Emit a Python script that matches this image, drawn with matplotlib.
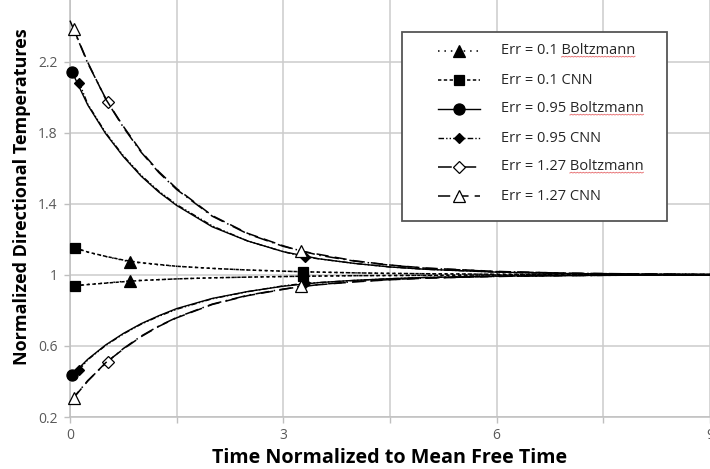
import matplotlib
matplotlib.use("Agg")
import numpy as np
import matplotlib.pyplot as plt
from matplotlib.lines import Line2D
from matplotlib.patches import Rectangle

plt.rcParams["font.family"] = ["Open Sans", "DejaVu Sans"]

# ---- data: normalized directional temperatures vs. time (upper / lower branch) ----
T_B01 = [0.07, 0.25, 0.5, 0.85, 1.25, 1.5, 2.0, 2.5, 3.0, 3.5, 4.0, 4.5, 5.0, 6.0, 7.0, 8.0, 9.0]
B01_HI = [1.150, 1.127, 1.103, 1.073, 1.056, 1.048, 1.036, 1.027, 1.020, 1.015, 1.011, 1.008, 1.006, 1.003, 1.002, 1.001, 1.000]
B01_LO = [0.940, 0.946, 0.954, 0.966, 0.973, 0.977, 0.983, 0.987, 0.990, 0.993, 0.995, 0.996, 0.997, 0.999, 0.999, 1.000, 1.000]
B01_MARK = [3]

T_C01 = [0.07, 0.25, 0.5, 0.75, 1.0, 1.5, 2.0, 2.5, 3.27, 4.0, 4.5, 5.0, 6.0, 7.0, 8.0, 9.0]
C01_HI = [1.152, 1.128, 1.104, 1.083, 1.068, 1.048, 1.036, 1.027, 1.017, 1.011, 1.008, 1.006, 1.003, 1.002, 1.001, 1.000]
C01_LO = [0.938, 0.945, 0.953, 0.961, 0.968, 0.977, 0.983, 0.987, 0.992, 0.995, 0.996, 0.997, 0.999, 0.999, 1.000, 1.000]
C01_MARK = [0, 8]

T_B095 = [0.03, 0.25, 0.5, 0.75, 1.0, 1.25, 1.5, 2.0, 2.5, 3.0, 3.5, 4.0, 4.5, 5.0, 6.0, 7.0, 8.0, 9.0]
B095_HI = [2.140, 1.955, 1.795, 1.665, 1.555, 1.465, 1.390, 1.270, 1.190, 1.130, 1.090, 1.064, 1.044, 1.031, 1.015, 1.007, 1.004, 1.002]
B095_LO = [0.437, 0.525, 0.605, 0.670, 0.725, 0.770, 0.810, 0.867, 0.906, 0.936, 0.956, 0.969, 0.978, 0.985, 0.993, 0.996, 0.998, 0.999]
B095_MARK = [0]

T_C095 = [0.13, 0.25, 0.5, 0.75, 1.0, 1.25, 1.5, 2.0, 2.5, 3.0, 3.3, 4.0, 4.5, 5.0, 6.0, 7.0, 8.0, 9.0]
C095_HI = [2.080, 1.960, 1.800, 1.670, 1.560, 1.470, 1.395, 1.275, 1.190, 1.130, 1.100, 1.064, 1.044, 1.031, 1.015, 1.007, 1.004, 1.002]
C095_LO = [0.466, 0.522, 0.602, 0.667, 0.722, 0.767, 0.806, 0.865, 0.905, 0.938, 0.952, 0.968, 0.978, 0.985, 0.993, 0.996, 0.998, 0.999]
C095_MARK = [0, 10]

T_B127 = [0.0, 0.25, 0.53, 0.75, 1.0, 1.25, 1.5, 2.0, 2.5, 3.0, 3.5, 4.0, 4.5, 5.0, 6.0, 7.0, 8.0, 9.0]
B127_HI = [2.430, 2.190, 1.970, 1.830, 1.690, 1.575, 1.480, 1.330, 1.230, 1.160, 1.110, 1.077, 1.054, 1.037, 1.018, 1.009, 1.004, 1.002]
B127_LO = [0.285, 0.405, 0.512, 0.585, 0.655, 0.712, 0.760, 0.835, 0.885, 0.920, 0.945, 0.962, 0.973, 0.982, 0.991, 0.996, 0.998, 0.999]
B127_MARK = [2]

T_C127 = [0.05, 0.25, 0.5, 0.75, 1.0, 1.25, 1.5, 2.0, 2.5, 3.0, 3.25, 4.0, 4.5, 5.0, 6.0, 7.0, 8.0, 9.0]
C127_HI = [2.384, 2.195, 1.990, 1.835, 1.695, 1.580, 1.485, 1.333, 1.233, 1.163, 1.133, 1.079, 1.055, 1.038, 1.019, 1.009, 1.005, 1.002]
C127_LO = [0.308, 0.402, 0.505, 0.582, 0.652, 0.710, 0.758, 0.833, 0.883, 0.918, 0.936, 0.960, 0.972, 0.981, 0.991, 0.996, 0.998, 0.999]
C127_MARK = [0, 10]

LABELS = ["Err = 0.1 Boltzmann", "Err = 0.1 CNN", "Err = 0.95 Boltzmann",
          "Err = 0.95 CNN", "Err = 1.27 Boltzmann", "Err = 1.27 CNN"]
X_TICKS = [0, 1.5, 3, 4.5, 6, 7.5, 9]
X_TICK_LABELS = ["0", "", "3", "", "6", "", "9"]
Y_TICKS = [0.2, 0.6, 1.0, 1.4, 1.8, 2.2]
X_TITLE = "Time Normalized to Mean Free Time"
Y_TITLE = "Normalized Directional Temperatures"

# ---- styles per series ----
STYLES = [
    dict(ls=(0, (1, 3.2)), marker="^", ms=8, mfc="black", lw=1.1),
    dict(ls=(0, (2.2, 1.6)), marker="s", ms=7.5, mfc="black", lw=1.1),
    dict(ls="-", marker="o", ms=8, mfc="black", lw=1.0),
    dict(ls=(0, (4, 1.5, 1, 1.5, 1, 1.5)), marker="D", ms=5.5, mfc="black", lw=1.0),
    dict(ls=(0, (9, 3, 1, 3)), marker="D", ms=6.5, mfc="white", lw=1.1),
    dict(ls=(0, (8, 4)), marker="^", ms=9, mfc="white", lw=1.1),
]
SERIES = [
    (T_B01, B01_HI, B01_LO, B01_MARK),
    (T_C01, C01_HI, C01_LO, C01_MARK),
    (T_B095, B095_HI, B095_LO, B095_MARK),
    (T_C095, C095_HI, C095_LO, C095_MARK),
    (T_B127, B127_HI, B127_LO, B127_MARK),
    (T_C127, C127_HI, C127_LO, C127_MARK),
]

W, H = 710, 469
fig = plt.figure(figsize=(W / 100, H / 100), dpi=100)
ax = fig.add_axes([70 / W, 52 / H, 640 / W, 417 / H])
ax.set_xlim(0, 9)
ax.set_ylim(0.2, 0.2 + 417 / 177.75)

grid_c = "#cccccc"
for s in ["top", "right"]:
    ax.spines[s].set_visible(False)
for s in ["left", "bottom"]:
    ax.spines[s].set_color("#bfbfbf")
    ax.spines[s].set_linewidth(1.1)
ax.set_xticks(X_TICKS)
ax.set_xticklabels(X_TICK_LABELS)
ax.set_yticks(Y_TICKS)
ax.set_yticklabels([f"{v:g}" for v in Y_TICKS])
ax.grid(True, color=grid_c, lw=1.1)
ax.set_axisbelow(True)
ax.tick_params(direction="out", length=4, width=1.0, color="#bfbfbf",
               labelcolor="#595959", labelsize=10)
ax.tick_params(axis="x", pad=4)
ax.tick_params(axis="y", pad=5)

for (t, hi, lo, marks), st in zip(SERIES, STYLES):
    for branch in (hi, lo):
        ax.plot(t, branch, color="black", ls=st["ls"], lw=st["lw"],
                marker=st["marker"], ms=st["ms"], mfc=st["mfc"], mec="black",
                mew=0.9, markevery=marks, clip_on=False, zorder=3)

# axis titles placed in figure pixels
fig.text(390 / W, 1 - 458 / H, X_TITLE, fontsize=14.2, fontweight="bold",
         ha="center", va="center", color="black")
fig.text(22 / W, 1 - 197 / H, Y_TITLE, fontsize=13, fontweight="bold",
         ha="center", va="center", rotation=90, color="black")

# ---- legend box drawn in figure pixels ----
fig.add_artist(Rectangle((402 / W, 1 - 221 / H), 265 / W, 189 / H,
                         transform=fig.transFigure, facecolor="white",
                         edgecolor="#555555", lw=1.3, zorder=5))
legend_texts = []
for i, (lab, st) in enumerate(zip(LABELS, STYLES)):
    y = 1 - (51 + 29 * i) / H
    fig.add_artist(Line2D([438 / W, 480 / W], [y, y], transform=fig.transFigure,
                          color="black", ls=st["ls"], lw=st["lw"], zorder=6))
    fig.add_artist(Line2D([459 / W], [y], transform=fig.transFigure,
                          marker=st["marker"], ms=st["ms"], mfc=st["mfc"],
                          mec="black", mew=0.9, ls="none", zorder=7))
    legend_texts.append(fig.text(501 / W, y, lab, fontsize=10.5, color="#262626",
                                 va="center", ha="left", zorder=7))

# wavy proofing underline beneath the word "Boltzmann"
fig.canvas.draw()
renderer = fig.canvas.get_renderer()
probe = fig.text(0, 0, "Boltzmann", fontsize=10.5)
word_w = probe.get_window_extent(renderer).width
probe.remove()
for txt in legend_texts:
    if not txt.get_text().endswith("Boltzmann"):
        continue
    bb = txt.get_window_extent(renderer)
    xs = np.arange(bb.x1 - word_w, bb.x1 + 0.1, 1.5)
    ys = bb.y0 + 1.5 + 0.7 * (np.arange(len(xs)) % 2)
    fig.add_artist(Line2D(xs / W, ys / H, transform=fig.transFigure,
                          color="#e8787a", lw=0.7, zorder=7))

fig.savefig("out.png", dpi=100)
